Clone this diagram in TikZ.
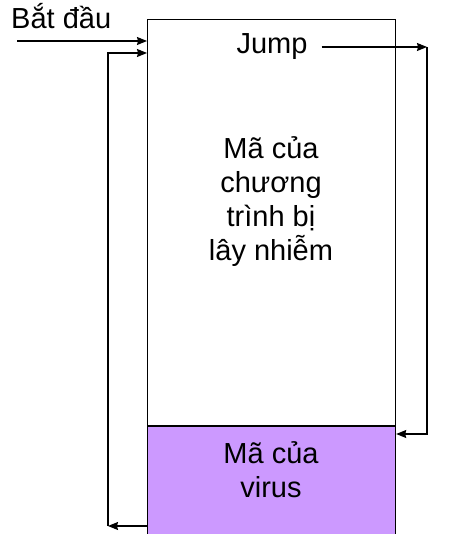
\documentclass[tikz,border=0pt]{standalone}
\usepackage{fontspec}
\setmainfont{Liberation Sans}
\usepackage{tikz}
\usetikzlibrary{arrows.meta, positioning, calc}
\definecolor{viruspurple}{HTML}{CC99FF}
\tikzstyle{block} = [rectangle, draw=black, line width=1.2pt, minimum width=248pt, inner sep=0pt, anchor=north west]
\tikzstyle{txt} = [align=center, inner sep=2pt]
\tikzstyle{arrow} = [line width=1.1pt, -{Stealth[length=10pt,width=8pt,inset=1pt]}]

\begin{document}
\begin{tikzpicture}[x=1pt, y=-1pt, font=\fontsize{29}{34}\selectfont]
  \useasboundingbox (0,0) rectangle (448,534);
  % memory block: host program on top, virus below
  \node (prog) [block, minimum height=406pt] at (147,19) {};
  \node (virus) [block, fill=viruspurple, minimum height=120pt] at (prog.south west) {};
  \node (hosttext) [txt] at (271,202) {Mã của\\chương\\trình bị\\lây nhiễm};
  \node (virustext) [txt] at (271,470) {Mã của\\virus};
  \node (jump) [txt] at (272,47) {Jump};
  \node (start) [anchor=base west, inner sep=0pt] at (11,29) {Bắt đầu};
  % corners of the connectors
  \coordinate (startin) at (17,41);
  \coordinate (backbot) at (108,526);
  \coordinate (backtop) at (108,53);
  \coordinate (jumpright) at (427,47);
  \coordinate (jumpdown) at (427,434);
  \draw[arrow] (startin) -- (prog.west |- startin);
  \draw[arrow] (virus.west |- backbot) -- (backbot);
  \draw[arrow] (backbot) -- (backtop) -- (prog.west |- backtop);
  \draw[arrow] ([xshift=12pt]jump.east) -- (jumpright);
  \draw[arrow] (jumpright) -- (jumpdown) -- (virus.east |- jumpdown);
\end{tikzpicture}
\end{document}
